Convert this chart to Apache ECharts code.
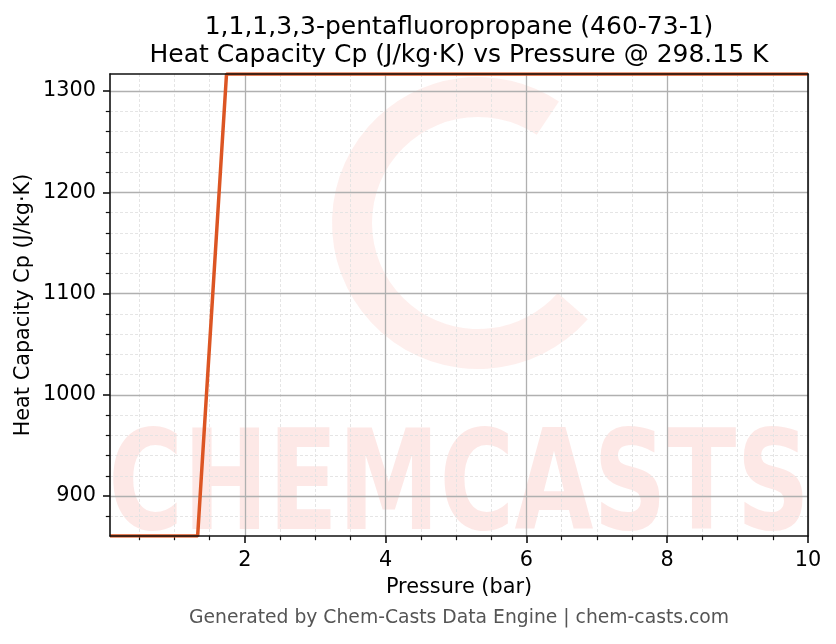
<!DOCTYPE html>
<html><head><meta charset="utf-8">
<script src="https://cdn.jsdelivr.net/npm/echarts@6/dist/echarts.min.js"></script>
<style>html,body{margin:0;padding:0;background:#fff}#c{width:836px;height:644px}</style>
</head><body><div id="c"></div>
<script>
// ---- data ----
const titleLine1 = '1,1,1,3,3-pentafluoropropane (460-73-1)';
const titleLine2 = 'Heat Capacity Cp (J/kg·K) vs Pressure @ 298.15 K';
const xName = 'Pressure (bar)';
const yName = 'Heat Capacity Cp (J/kg·K)';
const footer = 'Generated by Chem-Casts Data Engine | chem-casts.com';
const watermarkText = 'CHEMCASTS';

const pressure = [0.085, 1.33, 1.74, 10];
const heatCapacity = [860.5, 860.5, 1316.8, 1316.8];

const xRange = [0.085, 10];
const yRange = [860.5, 1316.8];
const xMajorTicks = [2, 4, 6, 8, 10];
const xMinorTicks = [0.5, 1, 1.5, 2.5, 3, 3.5, 4.5, 5, 5.5, 6.5, 7, 7.5, 8.5, 9, 9.5];
const yMajorTicks = [900, 1000, 1100, 1200, 1300];
const yMinorTicks = [880, 920, 940, 960, 980, 1020, 1040, 1060, 1080, 1120, 1140, 1160, 1180, 1220, 1240, 1260, 1280];

// ---- layout / style ----
const FONT = '"DejaVu Sans", Verdana, sans-serif';
const G = { left: 110, top: 74, width: 698, height: 462 };
const spine = { color: '#111', width: 1.6 };
const lineColor = '#dc5523';

const chart = echarts.init(document.getElementById('c'), null, { renderer: 'canvas' });

function grid() { return Object.assign({ containLabel: false, show: false }, G); }

const hidden = { show: false };
const option = {
  animation: false,
  backgroundColor: '#ffffff',
  grid: [grid(), grid(), grid()],
  xAxis: [
    {
      type: 'value', gridIndex: 0, position: 'bottom', min: xRange[0], max: xRange[1], z: 3,
      axisLine: { show: true, lineStyle: spine },
      axisTick: { show: true, length: 7, customValues: xMajorTicks, lineStyle: { color: '#111', width: 1.6 } },
      axisLabel: { show: true, customValues: xMajorTicks, margin: 14, fontFamily: FONT, fontSize: 20.8, color: '#000',
                   formatter: v => String(v) },
      splitLine: hidden
    },
    {
      type: 'value', gridIndex: 0, position: 'top', min: xRange[0], max: xRange[1], z: 3,
      axisLine: { show: true, lineStyle: spine }, axisTick: hidden, axisLabel: hidden, splitLine: hidden
    },
    {
      type: 'value', gridIndex: 1, position: 'bottom', min: xRange[0], max: xRange[1], z: 0.5,
      axisLine: hidden,
      axisTick: { show: true, length: 4.2, customValues: xMinorTicks, lineStyle: { color: '#111', width: 1.2 } },
      axisLabel: hidden,
      splitLine: { show: true, lineStyle: { color: '#e2e2e2', width: 0.9, type: [3, 2] } }
    },
    {
      type: 'value', gridIndex: 2, position: 'bottom', min: xRange[0], max: xRange[1], z: 1,
      axisLine: hidden,
      axisTick: { show: false, customValues: xMajorTicks },
      axisLabel: hidden,
      splitLine: { show: true, lineStyle: { color: '#b0b0b0', width: 1.3 } }
    }
  ],
  yAxis: [
    {
      type: 'value', gridIndex: 0, position: 'left', min: yRange[0], max: yRange[1], z: 3,
      axisLine: { show: true, lineStyle: spine },
      axisTick: { show: true, length: 7, customValues: yMajorTicks, lineStyle: { color: '#111', width: 1.6 } },
      axisLabel: { show: true, customValues: yMajorTicks, margin: 14, fontFamily: FONT, fontSize: 20.8, color: '#000',
                   formatter: v => String(v) },
      splitLine: hidden
    },
    {
      type: 'value', gridIndex: 0, position: 'right', min: yRange[0], max: yRange[1], z: 3,
      axisLine: { show: true, lineStyle: spine }, axisTick: hidden, axisLabel: hidden, splitLine: hidden
    },
    {
      type: 'value', gridIndex: 1, position: 'left', min: yRange[0], max: yRange[1], z: 0.5,
      axisLine: hidden,
      axisTick: { show: true, length: 4.2, customValues: yMinorTicks, lineStyle: { color: '#111', width: 1.2 } },
      axisLabel: hidden,
      splitLine: { show: true, lineStyle: { color: '#e2e2e2', width: 0.9, type: [3, 2] } }
    },
    {
      type: 'value', gridIndex: 2, position: 'left', min: yRange[0], max: yRange[1], z: 1,
      axisLine: hidden,
      axisTick: { show: false, customValues: yMajorTicks },
      axisLabel: hidden,
      splitLine: { show: true, lineStyle: { color: '#b0b0b0', width: 1.3 } }
    }
  ],
  series: [{
    type: 'line',
    xAxisIndex: 0, yAxisIndex: 0,
    data: pressure.map((p, i) => [p, heatCapacity[i]]),
    showSymbol: false,
    lineStyle: { color: lineColor, width: 3.5 },
    itemStyle: { color: lineColor },
    z: 2
  }],
  graphic: [
    { type: 'sector', z: 0, silent: true,
      shape: { cx: 478, cy: 223, r: 146, r0: 106, startAngle: 0.72, endAngle: 5.3, clockwise: true },
      style: { fill: 'rgba(240,80,60,0.09)' } },
    { type: 'text', z: 0, silent: true, x: 459, y: 493, scaleY: 1.37,
      style: { text: watermarkText, font: 'bold 102px ' + FONT, fill: 'rgba(240,80,60,0.13)', align: 'center', verticalAlign: 'middle' } },
    { type: 'text', x: 459, y: 27, style: { text: titleLine1, font: '25px ' + FONT, fill: '#000', align: 'center', verticalAlign: 'middle' } },
    { type: 'text', x: 459, y: 55, style: { text: titleLine2, font: '25px ' + FONT, fill: '#000', align: 'center', verticalAlign: 'middle' } },
    { type: 'text', x: 459, y: 588, style: { text: xName, font: '20.8px ' + FONT, fill: '#000', align: 'center', verticalAlign: 'middle' } },
    { type: 'text', x: 24, y: 305, rotation: Math.PI / 2, style: { text: yName, font: '20.8px ' + FONT, fill: '#000', align: 'center', verticalAlign: 'middle' } },
    { type: 'text', x: 459, y: 618, style: { text: footer, font: '18.75px ' + FONT, fill: '#555', align: 'center', verticalAlign: 'middle' } }
  ]
};
chart.setOption(option);
</script>
</body></html>
